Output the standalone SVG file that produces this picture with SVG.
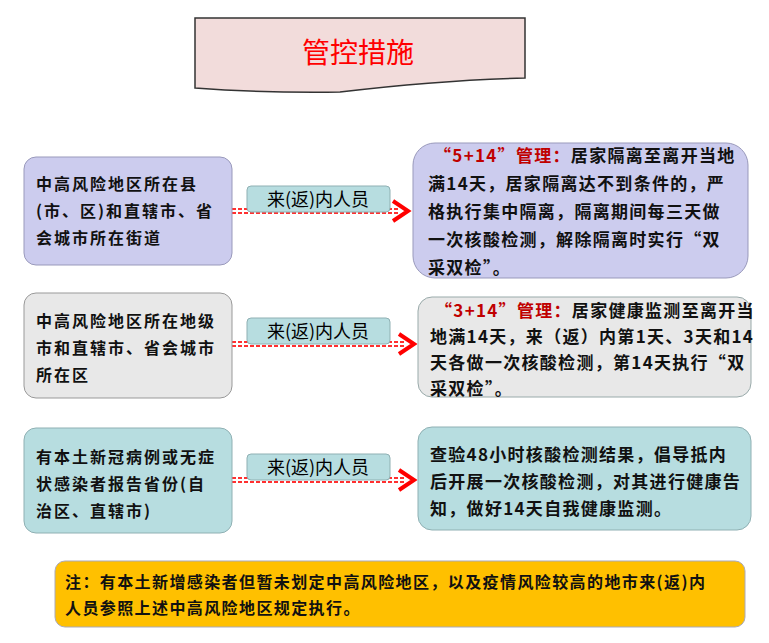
<svg xmlns="http://www.w3.org/2000/svg" width="769" height="643" viewBox="0 0 769 643">
<style>
.t{font-family:"Noto Sans CJK SC",sans-serif;font-size:16px;font-weight:bold;fill:#111;letter-spacing:2px}
.rt{font-size:17px;letter-spacing:1.3px}
.n{font-size:16px;letter-spacing:1.4px}
.r{fill:#c00000}
.lab{fill:#b7dde0;stroke:#8fb0b3;stroke-width:1}
.lt{font-family:"Noto Sans CJK SC",sans-serif;font-size:18px;fill:#000}
.dash{stroke:#ff3030;stroke-width:2;stroke-dasharray:4 2;fill:none}
.arr{stroke:#ff0000;stroke-width:4;fill:none}
</style>
<rect width="769" height="643" fill="#fff"/>
<g id="title">
<path d="M195 18 H525 V78 Q440 80 340 92 Q260 93 195 88 Z" fill="#f2dcdb" stroke="#333" stroke-width="1.5"/>
<text x="358" y="63" font-family="Noto Sans CJK SC,serif" font-size="28" fill="#ff0000" text-anchor="middle">管控措施</text>
</g>
<g id="connectors">
<path class="dash" d="M232 209 H398 M232 213 H398"/><path class="arr" d="M393 201 L408 211 L393 221"/>
<path class="dash" d="M232 342 H404 M232 346 H404"/><path class="arr" d="M399 334 L414 344 L399 354"/>
<path class="dash" d="M232 478 H404 M232 482 H404"/><path class="arr" d="M399 470 L414 480 L399 490"/>
</g>
<g id="left1"><rect x="24" y="157" width="208" height="108" rx="12" fill="#ccccee" stroke="#9999bb"/>
<text class="t" x="36" y="190">中高风险地区所在县</text><text class="t" x="36" y="217">(市、区)和直辖市、省</text><text class="t" x="36" y="244">会城市所在街道</text></g>
<g id="left2"><rect x="24" y="293" width="208" height="105" rx="12" fill="#e8e8e8" stroke="#999"/>
<text class="t" x="36" y="327">中高风险地区所在地级</text><text class="t" x="36" y="354">市和直辖市、省会城市</text><text class="t" x="36" y="381">所在区</text></g>
<g id="left3"><rect x="24" y="428" width="208" height="105" rx="12" fill="#b7dde0" stroke="#8fb0b3"/>
<text class="t" x="36" y="463">有本土新冠病例或无症</text><text class="t" x="36" y="490">状感染者报告省份(自</text><text class="t" x="36" y="517">治区、直辖市)</text></g>
<g id="lab1"><rect class="lab" x="247" y="186" width="143" height="26" rx="4"/><text class="lt" x="318" y="206" text-anchor="middle">来(返)内人员</text></g>
<g id="lab2"><rect class="lab" x="247" y="318" width="143" height="26" rx="4"/><text class="lt" x="318" y="338" text-anchor="middle">来(返)内人员</text></g>
<g id="lab3"><rect class="lab" x="247" y="454" width="143" height="26" rx="4"/><text class="lt" x="318" y="474" text-anchor="middle">来(返)内人员</text></g>
<g id="right1"><rect x="413" y="143" width="335" height="135" rx="22" fill="#ccccee" stroke="#9999bb"/>
<text class="t rt" x="434" y="162"><tspan class="r">“5+14”管理：</tspan>居家隔离至离开当地</text>
<text class="t rt" x="428" y="190">满14天，居家隔离达不到条件的，严</text>
<text class="t rt" x="428" y="218">格执行集中隔离，隔离期间每三天做</text>
<text class="t rt" x="428" y="246">一次核酸检测，解除隔离时实行“双</text>
<text class="t rt" x="428" y="274">采双检”。</text></g>
<g id="right2"><rect x="418" y="297" width="333" height="100" rx="14" fill="#e8e8e8" stroke="#99aaaa"/>
<text class="t rt" x="435" y="317"><tspan class="r">“3+14”管理：</tspan>居家健康监测至离开当</text>
<text class="t rt" x="430" y="343">地满14天，来（返）内第1天、3天和14</text>
<text class="t rt" x="430" y="369">天各做一次核酸检测，第14天执行“双</text>
<text class="t rt" x="430" y="395">采双检”。</text></g>
<g id="right3"><rect x="418" y="427" width="333" height="103" rx="14" fill="#b7dde0" stroke="#8fb0b3"/>
<text class="t rt" x="430" y="461">查验48小时核酸检测结果，倡导抵内</text>
<text class="t rt" x="430" y="488">后开展一次核酸检测，对其进行健康告</text>
<text class="t rt" x="430" y="515">知，做好14天自我健康监测。</text></g>
<g id="note"><rect x="55" y="561" width="690" height="66" rx="10" fill="#ffc000" stroke="#aab"/>
<text class="t n" x="65" y="588">注：有本土新增感染者但暂未划定中高风险地区，以及疫情风险较高的地市来(返)内</text>
<text class="t n" x="65" y="614">人员参照上述中高风险地区规定执行。</text></g>
</svg>
